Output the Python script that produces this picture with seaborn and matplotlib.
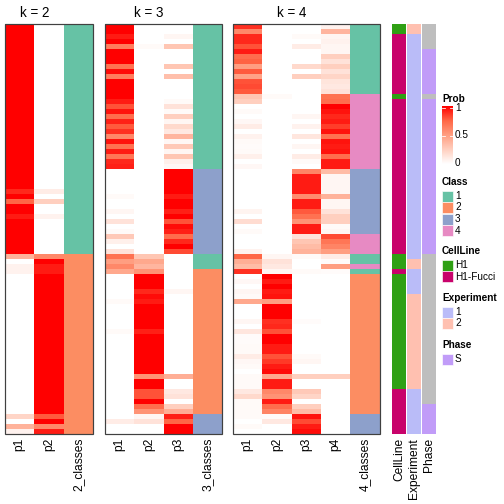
import numpy as np
import pandas as pd
import seaborn as sns
import matplotlib.pyplot as plt
from matplotlib.colors import LinearSegmentedColormap, ListedColormap
from matplotlib.patches import Rectangle

# membership probabilities for the 82 samples, top to bottom
k2_p1 = [1, 1, 1, 1, 1, 1, 1, 1, 1, 1,
         1, 1, 1, 1, 1, 1, 1, 1, 1, 1,
         1, 1, 1, 1, 1, 1, 1, 1, 1, 1,
         1, 1, 1, .9, 1, .75, 1, 1, .93, 1,
         1, 1, 1, 1, 1, 1, .4, 0, .07, .07,
         0, 0, 0, 0, 0, 0, 0, 0, 0, 0,
         0, 0, 0, 0, 0, 0, 0, 0, 0, 0,
         0, 0, 0, 0, 0, 0, 0, 0, .22, 0,
         .4, .07]
k2_p2 = [0, 0, 0, 0, 0, 0, 0, 0, 0, 0,
         0, 0, 0, 0, 0, 0, 0, 0, 0, 0,
         0, 0, 0, 0, 0, 0, 0, 0, 0, 0,
         0, 0, 0, .1, 0, .25, 0, 0, .07, 0,
         0, 0, 0, 0, 0, 0, .6, 1, .93, .93,
         1, 1, 1, 1, 1, 1, 1, 1, 1, 1,
         1, 1, 1, 1, 1, 1, 1, 1, 1, 1,
         1, 1, 1, 1, 1, 1, 1, 1, .78, 1,
         .6, .93]
k2_class = [1] * 46 + [2] * 36

k3_p1 = [1, 1, .93, 1, .65, 1, 1, 1, .7, .97,
         .65, 1, 1, 1, 1, .93, .8, .95, .72, .92,
         .78, .88, .6, .95, .7, .93, .68, .9, .92, 0,
         0, 0, 0, 0, .03, 0, 0, .05, 0, .15,
         0, .03, .28, .08, 0, .15, .7, .5, .6, .45,
         0, 0, 0, 0, 0, .03, 0, 0, 0, 0,
         0, .03, 0, 0, 0, 0, 0, 0, 0, 0,
         0, 0, 0, 0, 0, 0, 0, 0, 0, .1,
         0, 0]
k3_p2 = [0, 0, 0, 0, .03, 0, 0, 0, 0, 0,
         0, 0, 0, 0, 0, 0, 0, 0, 0, 0,
         0, 0, 0, 0, 0, 0, 0, 0, 0, 0,
         0, 0, 0, 0, 0, 0, 0, 0, 0, 0,
         0, 0, 0, 0, 0, 0, .3, .45, .38, .55,
         1, 1, 1, .9, .97, .93, 1, 1, 1, 1,
         1, .92, 1, 1, 1, 1, 1, 1, 1, 1,
         .55, 1, 1, .8, .8, 1, .72, .55, .05, .15,
         0, 0]
k3_p3 = [0, 0, .05, 0, .3, 0, 0, 0, .3, 0,
         .33, 0, 0, 0, 0, .03, .15, .03, .25, .05,
         .2, .12, .38, .04, .28, .05, .3, .08, .04, 1,
         1, 1, 1, 1, .93, 1, 1, .92, 1, .8,
         .97, .92, .72, .9, 1, .82, 0, 0, 0, 0,
         0, 0, 0, .05, 0, 0, 0, 0, 0, 0,
         0, 0, 0, 0, 0, 0, 0, 0, 0, 0,
         .42, 0, 0, .12, .15, 0, .25, .42, .92, .75,
         1, 1]
k3_class = [1] * 29 + [3] * 17 + [1] * 3 + [2] * 29 + [3] * 4

k4_p1 = [.88, .6, .9, .9, .8, .93, .72, .76, .5, .78,
         .48, .8, .82, .78, .3, .25, 0, .03, 0, .04,
         .1, 0, .07, .03, .02, .03, .08, 0, .04, 0,
         0, 0, 0, 0, 0, 0, 0, .06, 0, .18,
         0, .03, 0, 0, 0, .07, .75, .42, .35, .88,
         0, .04, 0, .05, .03, .45, 0, 0, 0, .05,
         0, .13, .02, .02, .03, .03, .1, .04, .03, 0,
         .03, .03, .03, .12, .2, .03, .03, .03, .03, 0,
         .03, 0]
k4_p2 = [0, 0, 0, 0, 0, 0, 0, 0, 0, 0,
         0, 0, 0, 0, .03, 0, 0, 0, 0, 0,
         0, 0, 0, 0, 0, 0, 0, 0, 0, 0,
         0, 0, 0, 0, 0, 0, 0, 0, 0, 0,
         0, 0, 0, 0, 0, 0, .05, .15, .12, .05,
         1, .93, 1, .93, .95, .5, 1, 1, 1, .88,
         .9, .8, 1, 1, .93, .93, .8, .86, .93, .97,
         .45, .93, .93, .6, .55, .93, .72, .62, .02, .12,
         0, 0]
k4_p3 = [0, 0, .03, 0, .1, 0, 0, 0, .2, 0,
         .25, 0, 0, 0, 0, 0, 0, 0, .05, 0,
         .07, 0, .13, 0, .05, 0, .1, .03, 0, .62,
         .93, .93, .93, .93, .58, .93, .93, .78, .7, .55,
         .93, .93, .15, .3, .35, .4, .03, 0, 0, .03,
         0, 0, 0, 0, 0, 0, 0, 0, 0, .02,
         0, 0, 0, 0, 0, 0, .03, .05, 0, 0,
         .25, 0, 0, .28, .22, 0, .25, .35, .95, .82,
         .93, .97]
k4_p4 = [.07, .38, .05, .07, .05, .05, .25, .15, .25, .15,
         .22, .14, .12, .15, .7, .72, 1, .95, .9, .93,
         .85, .95, .7, .95, .93, .95, .72, .93, .93, .35,
         .05, .05, .05, .05, .4, .05, .05, .15, .25, .25,
         .03, .05, .82, .68, .62, .5, .1, .02, .5, .02,
         0, 0, 0, 0, 0, 0, 0, 0, 0, 0,
         0, 0, 0, 0, 0, 0, 0, 0, 0, 0,
         .25, 0, 0, 0, 0, 0, 0, 0, 0, 0,
         0, 0]
k4_class = [1] * 14 + [4] * 15 + [3] * 13 + [4] * 4 + [1] * 2 + [4] + [1] + [2] * 28 + [3] * 4

# sample annotations
cell_line = ['H1'] * 2 + ['H1-Fucci'] * 12 + ['H1'] + ['H1-Fucci'] * 31 + ['H1'] * 3 + \
            ['H1-Fucci'] + ['H1'] * 23 + ['H1-Fucci'] * 9
experiment = ['2'] * 2 + ['1'] * 45 + ['2'] * 2 + ['1'] * 5 + ['2'] * 19 + ['1'] * 9
phase = [None] * 5 + ['S'] * 9 + [None] + ['S'] * 31 + [None] * 30 + ['S'] * 6

class_levels = ['1', '2', '3', '4']
cellline_levels = ['H1', 'H1-Fucci']
experiment_levels = ['1', '2']
phase_levels = ['S']

class_colors = ['#66C2A5', '#FC8D62', '#8DA0CB', '#E78AC3']
cellline_colors = ['#2FA014', '#C8026B']
experiment_colors = ['#BABCF8', '#FFC0B0']
phase_colors = ['#C19CF8']
na_color = '#BEBEBE'

# white -> red, interpolated like colorRamp2 (LAB)
prob_cmap = LinearSegmentedColormap.from_list(
    'prob', [(0, '#FFFFFF'), (.25, '#FFCFBF'), (.5, '#FF9E81'), (.75, '#FF6746'), (1, '#FF0000')])

plt.rcParams['font.family'] = ['Liberation Sans', 'DejaVu Sans']
W, H = 504, 504
fig = plt.figure(figsize=(7, 7), dpi=72)

TOP, BOT = 24, 434
CW = 29.3


def px_axes(x0, x1, y0=TOP, y1=BOT):
    return fig.add_axes([x0 / W, 1 - y1 / H, (x1 - x0) / W, (y1 - y0) / H])


def style_ticks(ax, size=12):
    ax.tick_params(axis='x', length=0, pad=4, labelsize=size)
    ax.tick_params(axis='y', length=0)
    plt.setp(ax.get_xticklabels(), rotation=90, ha='center', va='top')


panels = [
    (2, 5, {'p1': k2_p1, 'p2': k2_p2}, k2_class),
    (3, 105, {'p1': k3_p1, 'p2': k3_p2, 'p3': k3_p3}, k3_class),
    (4, 233, {'p1': k4_p1, 'p2': k4_p2, 'p3': k4_p3, 'p4': k4_p4}, k4_class),
]

borders = []
for k, x0, probs, classes in panels:
    df = pd.DataFrame(probs)
    xp = x0 + CW * k
    ax = px_axes(x0, xp)
    sns.heatmap(df, ax=ax, cmap=prob_cmap, vmin=0, vmax=1, cbar=False,
                yticklabels=False, xticklabels=list(df.columns))
    style_ticks(ax)
    ax.set_ylabel('')
    ax.set_title(f'k = {k}', fontsize=13.5, pad=7)

    axc = px_axes(xp, xp + CW)
    cdf = pd.DataFrame({f'{k}_classes': classes})
    sns.heatmap(cdf, ax=axc, cmap=ListedColormap(class_colors), vmin=0.5, vmax=4.5,
                cbar=False, yticklabels=False)
    style_ticks(axc)
    borders.append((x0, xp + CW))

# annotation columns
codes_cell = [cellline_levels.index(v) for v in cell_line]
codes_exp = [experiment_levels.index(v) for v in experiment]
codes_phase = [0 if v is None else phase_levels.index(v) + 1 for v in phase]

annots = [
    ('CellLine', 392, codes_cell, cellline_colors),
    ('Experiment', 407, codes_exp, experiment_colors),
    ('Phase', 422, codes_phase, [na_color] + phase_colors),
]
for name, xa, codes, cols in annots:
    axa = px_axes(xa, xa + 14)
    sns.heatmap(pd.DataFrame({name: codes}), ax=axa, cmap=ListedColormap(cols),
                vmin=-0.5, vmax=len(cols) - 0.5, cbar=False, yticklabels=False)
    style_ticks(axa)

# overlay in pixel coords: borders and legends
ov = fig.add_axes([0, 0, 1, 1])
ov.set_xlim(0, W)
ov.set_ylim(H, 0)
ov.axis('off')
ov.patch.set_alpha(0)

for bx0, bx1 in borders:
    ov.add_patch(Rectangle((bx0, TOP), bx1 - bx0, BOT - TOP, fill=False,
                           edgecolor='#404040', lw=1.2))

LX = 442
ov.text(LX, 98.5, 'Prob', fontsize=10, fontweight='bold', va='center')
grad = np.linspace(1, 0, 200).reshape(-1, 1)
ov.imshow(grad, extent=(LX, LX + 11, 164, 106.5), cmap=prob_cmap, vmin=0, vmax=1,
          aspect='auto', interpolation='bilinear')
for v, lab in [(1, '1'), (0.5, '0.5'), (0, '0')]:
    y = 163 - 55 * v
    ov.text(LX + 13, y, lab, fontsize=10, va='center')
    if v > 0:
        ov.plot([LX, LX + 3], [y, y], color='white', lw=0.8)
        ov.plot([LX + 8, LX + 11], [y, y], color='white', lw=0.8)


def legend_block(title, y_title, labels, colors):
    ov.text(LX, y_title, title, fontsize=10, fontweight='bold', va='center')
    for i, (lab, col) in enumerate(zip(labels, colors)):
        yc = y_title + 14 + 11.5 * i
        ov.add_patch(Rectangle((LX, yc - 5.5), 11, 11, facecolor=col,
                               edgecolor='white', lw=0.6))
        ov.text(LX + 13, yc, lab, fontsize=10, va='center')


legend_block('Class', 182, class_levels, class_colors)
legend_block('CellLine', 251, cellline_levels, cellline_colors)
legend_block('Experiment', 298, experiment_levels, experiment_colors)
legend_block('Phase', 345, phase_levels, phase_colors)

ov.set_xlim(0, W)
ov.set_ylim(H, 0)

fig.savefig('out.png', dpi=72)
